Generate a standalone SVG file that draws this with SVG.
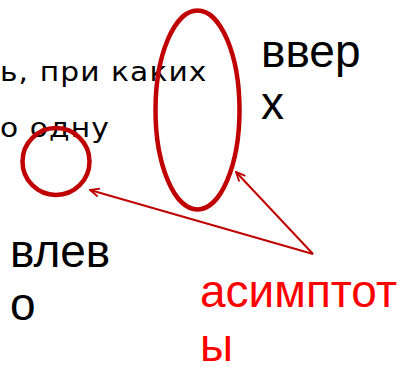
<svg xmlns="http://www.w3.org/2000/svg" width="407" height="368" viewBox="0 0 407 368">
  <defs>
    <style>
      .body { font-family: "DejaVu Sans", Verdana, sans-serif; font-size: 27px; fill: #000; letter-spacing: 1px; }
      .big { font-family: "Liberation Sans", Arial, sans-serif; font-size: 46px; fill: #000; }
      .red { fill: #ff0000; }
      .ring { fill: none; stroke: #c00000; stroke-width: 4.5; }
      .ptr { fill: none; stroke: #c00000; stroke-width: 2; }
    </style>
    <marker id="tip" viewBox="0 0 12 12" refX="11" refY="6" markerWidth="11" markerHeight="11" markerUnits="userSpaceOnUse" orient="auto">
      <path d="M1,1.5 L11,6 L1,10.5" fill="none" stroke="#c00000" stroke-width="2"/>
    </marker>
  </defs>
  <rect width="407" height="368" fill="#fff"/>

  <!-- body text fragments, set slightly wide -->
  <g id="text-lines" transform="scale(1.1 1)">
    <text class="body" x="0" y="81">ь, при каких</text>
    <text class="body" x="0" y="137">о одну</text>
  </g>

  <!-- highlighted regions -->
  <g id="ellipse-up">
    <ellipse class="ring" cx="197.5" cy="110" rx="42" ry="99.5"/>
  </g>
  <g id="circle-left">
    <circle class="ring" cx="56" cy="161.5" r="33.5"/>
  </g>

  <!-- labels -->
  <g id="label-up">
    <text class="big" x="261" y="67">ввер</text>
    <text class="big" x="261" y="119">х</text>
  </g>
  <g id="label-left">
    <text class="big" x="10" y="267">влев</text>
    <text class="big" x="10" y="320">о</text>
  </g>
  <g id="label-asymptotes">
    <text class="big red" x="200" y="307">асимптот</text>
    <text class="big red" x="200" y="361">ы</text>
  </g>

  <!-- pointers -->
  <g id="connectors">
    <line class="ptr" x1="313" y1="254" x2="90" y2="190" marker-end="url(#tip)"/>
    <line class="ptr" x1="313" y1="254" x2="236" y2="172" marker-end="url(#tip)"/>
  </g>
</svg>
